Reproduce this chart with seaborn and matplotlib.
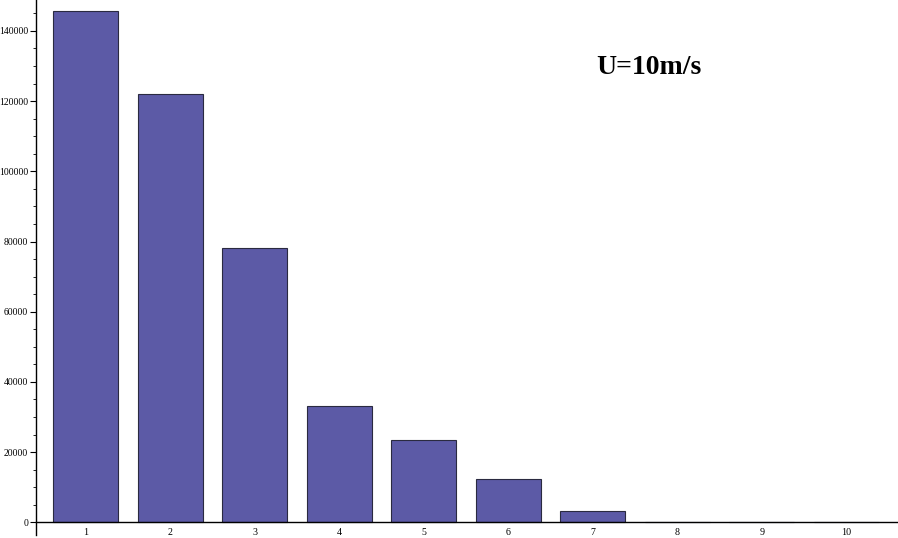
import matplotlib
matplotlib.use("Agg")
import matplotlib.pyplot as plt
import seaborn as sns
import pandas as pd
from matplotlib.ticker import MultipleLocator

categories = ["1", "2", "3", "4", "5", "6", "7", "8", "9", "10"]
values = [145700, 122000, 78100, 33000, 23400, 12300, 3100, 0, 0, 0]
y_ticks = [0, 20000, 40000, 60000, 80000, 100000, 120000, 140000]

df = pd.DataFrame({"bin": categories, "count": values})

sns.set_style("white")
plt.rcParams["font.family"] = ["Liberation Serif", "DejaVu Serif"]

fig = plt.figure(figsize=(8.98, 5.38), dpi=100)
ax = fig.add_axes([36 / 898, 0.005, 861 / 898, 0.995])

sns.barplot(data=df, x="bin", y="count", color="#5c5aa6", saturation=1,
            width=0.77, edgecolor="#2a2a40", linewidth=0.8, ax=ax)

ax.set_xlim(-0.586, 9.60)
ax.set_ylim(-3700, 148800)
ax.set_xlabel("")
ax.set_ylabel("")

for s in ["top", "right"]:
    ax.spines[s].set_visible(False)
ax.spines["bottom"].set_position(("data", 0))
ax.spines["bottom"].set_linewidth(1.0)
ax.spines["left"].set_linewidth(1.0)
ax.spines["bottom"].set_color("black")
ax.spines["left"].set_color("black")

ax.set_yticks(y_ticks)
ax.set_yticklabels([str(v) for v in y_ticks])
ax.yaxis.set_minor_locator(MultipleLocator(5000))
ax.tick_params(axis="y", which="major", length=4, width=0.8, labelsize=6.9, pad=1.5,
               left=True, colors="black")
ax.tick_params(axis="y", which="minor", length=2, width=0.6, left=True, colors="black")
ax.tick_params(axis="x", which="both", length=0, labelsize=7.2, pad=4, colors="black")

fig.text(649 / 898, 1 - 67 / 538, "U=10m/s", fontsize=20, fontweight="bold",
         color="black", ha="center", va="center")

fig.savefig("out.png", dpi=100)
